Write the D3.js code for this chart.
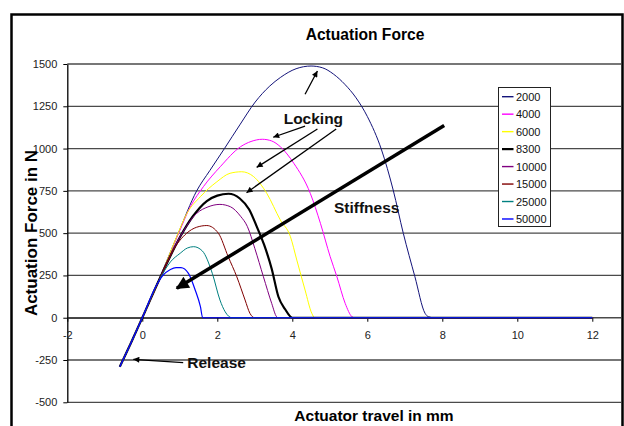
<!DOCTYPE html>
<html><head><meta charset="utf-8">
<script src="https://cdn.jsdelivr.net/npm/d3@7"></script>
<style>
html,body{margin:0;padding:0;background:#fff;}
svg{display:block;font-family:"Liberation Sans",Arial,sans-serif;}
</style></head>
<body>
<svg id="chart" width="624" height="426"></svg>
<script>
// ---- data ----
const seriesNames = ["2000","4000","6000","8300","10000","15000","25000","50000"];
const seriesColors = ["#14147a","#ff00ff","#ffff00","#000000","#800080","#800000","#008080","#0000ff"];
const seriesWidths = [1,1,1,2.2,1,1,1,1.2];
const s2000 = [[-0.6,-290],[-0.3,-148],[0,0],[0.5,255],[0.96,500],[1.45,750],[1.8,870],[2.19,1000],[2.6,1140],[3.01,1275],[3.4,1370],[3.68,1420],[4.1,1472],[4.5,1488],[4.8,1478],[5.1,1440],[5.4,1380],[5.7,1300],[6.0,1190],[6.38,992],[6.69,755],[6.96,499],[7.27,242],[7.54,26],[7.63,6],[7.77,0],[12,0]];
const s4000 = [[-0.6,-290],[-0.3,-148],[0,0],[0.5,252],[0.96,495],[1.28,656],[1.63,775],[2.08,893],[2.62,1011],[2.9,1042],[3.2,1055],[3.45,1045],[3.68,1011],[4.04,913],[4.48,735],[4.75,558],[5.01,361],[5.19,242],[5.41,85],[5.59,6],[5.65,0],[12,0]];
const s6000 = [[-0.6,-290],[-0.3,-148],[0,0],[0.5,250],[0.9,470],[1.19,617],[1.55,716],[1.99,804],[2.34,854],[2.65,863],[2.97,834],[3.32,735],[3.68,578],[3.95,479],[4.12,341],[4.34,164],[4.52,26],[4.6,0],[12,0]];
const s8300 = [[-0.6,-290],[-0.3,-148],[0,0],[0.5,248],[1.01,479],[1.35,600],[1.72,690],[2.0,722],[2.3,733],[2.6,705],[2.85,640],[3.05,540],[3.25,430],[3.45,290],[3.63,124],[3.81,50],[4.0,0],[12,0]];
const s10000 = [[-0.6,-290],[-0.3,-148],[0,0],[0.5,248],[1.01,479],[1.45,617],[1.75,655],[2.07,670],[2.35,656],[2.62,600],[2.8,540],[3.0,410],[3.23,242],[3.45,85],[3.58,6],[3.62,0],[12,0]];
const s15000 = [[-0.6,-290],[-0.3,-148],[0,0],[0.5,245],[0.8,390],[1.18,499],[1.45,535],[1.72,545],[2.03,499],[2.29,361],[2.52,242],[2.74,105],[2.87,26],[3.0,0],[12,0]];
const s25000 = [[-0.6,-290],[-0.3,-148],[0,0],[0.5,243],[0.75,330],[1.01,381],[1.2,412],[1.37,420],[1.6,395],[1.87,260],[2.07,105],[2.21,35],[2.39,0],[12,0]];
const s50000 = [[-0.6,-290],[-0.3,-148],[0,0],[0.35,180],[0.55,250],[0.75,285],[0.9,296],[1.03,296],[1.23,262],[1.41,164],[1.55,65],[1.61,0],[12,0]];
const seriesData = [s2000,s4000,s6000,s8300,s10000,s15000,s25000,s50000];
const xTicks = [-2,0,2,4,6,8,10,12];
const yTicks = [-500,-250,0,250,500,750,1000,1250,1500];
const titleText = "Actuation Force";
const xTitle = "Actuator travel in mm";
const yTitle = "Actuation Force in N";

// ---- layout ----
const svg = d3.select("#chart");
const x = d3.scaleLinear().domain([-2,12]).range([67.3,592.3]);
const y = d3.scaleLinear().domain([-500,1500]).range([402.3,64]);
const gridRight = 621;
const fmt = d => String(d);

// outer frame
svg.append("rect").attr("x",11.5).attr("y",14.5).attr("width",611).attr("height",440)
  .attr("fill","none").attr("stroke","#000").attr("stroke-width",2.5);

// gridlines
svg.append("g").selectAll("line").data(yTicks).join("line")
  .attr("x1",x(-2)).attr("x2",gridRight).attr("y1",d=>y(d)).attr("y2",d=>y(d))
  .attr("stroke","#4a4a4a").attr("stroke-width",1.3);

// y axis
const yAxis = svg.append("g").attr("transform",`translate(${x(-2)},0)`)
  .call(d3.axisLeft(y).tickValues(yTicks).tickFormat(fmt).tickSize(4).tickSizeOuter(0).tickPadding(6));
yAxis.select(".domain").attr("stroke","#000").attr("stroke-width",1.3);
yAxis.selectAll(".tick line").attr("stroke","#000");
yAxis.selectAll("text").attr("font-size",11).attr("fill","#222").attr("font-family","Liberation Sans, Arial, sans-serif");

// x axis at y=0
const xAxis = svg.append("g").attr("transform",`translate(0,${y(0)})`)
  .call(d3.axisBottom(x).tickValues(xTicks).tickFormat(fmt).tickSize(4).tickSizeOuter(0).tickPadding(9.5));
xAxis.select(".domain").attr("stroke","#444").attr("stroke-width",1.3);
xAxis.selectAll(".tick line").attr("stroke","#000");
xAxis.selectAll("text").attr("font-size",11).attr("fill","#222").attr("font-family","Liberation Sans, Arial, sans-serif");

// series
const line = d3.line().x(d=>x(d[0])).y(d=>y(d[1])).curve(d3.curveMonotoneX);
svg.append("g").selectAll("path").data(seriesData).join("path")
  .attr("d",line).attr("fill","none")
  .attr("stroke",(d,i)=>seriesColors[i]).attr("stroke-width",(d,i)=>seriesWidths[i])
  .attr("stroke-linejoin","round");

// legend
const lg = svg.append("g");
lg.append("rect").attr("x",498.5).attr("y",87.5).attr("width",52).attr("height",139)
  .attr("fill","#fff").attr("stroke","#222").attr("stroke-width",1);
const le = lg.selectAll("g.e").data(seriesNames).join("g").attr("class","e")
  .attr("transform",(d,i)=>`translate(0,${96.7+i*17.47})`);
le.append("line").attr("x1",502).attr("x2",513.5).attr("y1",0).attr("y2",0)
  .attr("stroke",(d,i)=>seriesColors[i]).attr("stroke-width",(d,i)=>i===3?2.2:1.4);
le.append("text").attr("x",516).attr("y",4).attr("font-size",11).attr("fill","#111").text(d=>d);

// titles
svg.append("text").attr("x",365).attr("y",40).attr("text-anchor","middle")
  .attr("font-size",15.6).attr("font-weight","bold").text(titleText);
svg.append("text").attr("x",374).attr("y",421).attr("text-anchor","middle")
  .attr("font-size",15.5).attr("font-weight","bold").text(xTitle);
svg.append("text").attr("transform","translate(37,233) rotate(-90)").attr("text-anchor","middle")
  .attr("font-size",17).attr("font-weight","bold").text(yTitle);

// annotations
const defs = svg.append("defs");
defs.append("marker").attr("id","ah").attr("viewBox","0 0 10 10").attr("refX",10).attr("refY",5)
  .attr("markerWidth",8).attr("markerHeight",6).attr("markerUnits","userSpaceOnUse").attr("orient","auto")
  .append("path").attr("d","M0,0L10,5L0,10z").attr("fill","#000");
defs.append("marker").attr("id","ahBig").attr("viewBox","0 0 10 10").attr("refX",9).attr("refY",5)
  .attr("markerWidth",16).attr("markerHeight",13).attr("markerUnits","userSpaceOnUse").attr("orient","auto")
  .append("path").attr("d","M0,0L10,5L0,10z").attr("fill","#000");

const arrows = [
  {from:[4.34,1321],to:[4.67,1459],w:1.3,m:"ah"},
  {from:[4.34,1133],to:[3.49,1067],w:1.3,m:"ah"},
  {from:[4.67,1116],to:[3.05,889],w:1.3,m:"ah"},
  {from:[5.17,1116],to:[2.78,739],w:1.3,m:"ah"},
  {from:[1.09,-266],to:[-0.24,-246],w:1.3,m:"ah"},
  {from:[8.05,1137],to:[0.92,174],w:3.5,m:"ahBig"}
];
svg.append("g").selectAll("line").data(arrows).join("line")
  .attr("x1",d=>x(d.from[0])).attr("y1",d=>y(d.from[1]))
  .attr("x2",d=>x(d.to[0])).attr("y2",d=>y(d.to[1]))
  .attr("stroke","#000").attr("stroke-width",d=>d.w)
  .attr("marker-end",d=>`url(#${d.m})`);

const labels = [
  {t:"Locking",p:[3.77,1145]},
  {t:"Stiffness",p:[5.11,621]},
  {t:"Release",p:[1.2,-299]}
];
svg.append("g").selectAll("text").data(labels).join("text")
  .attr("x",d=>x(d.p[0])).attr("y",d=>y(d.p[1]))
  .attr("font-size",15.5).attr("font-weight","bold").attr("fill","#111").text(d=>d.t);
</script>
</body></html>
